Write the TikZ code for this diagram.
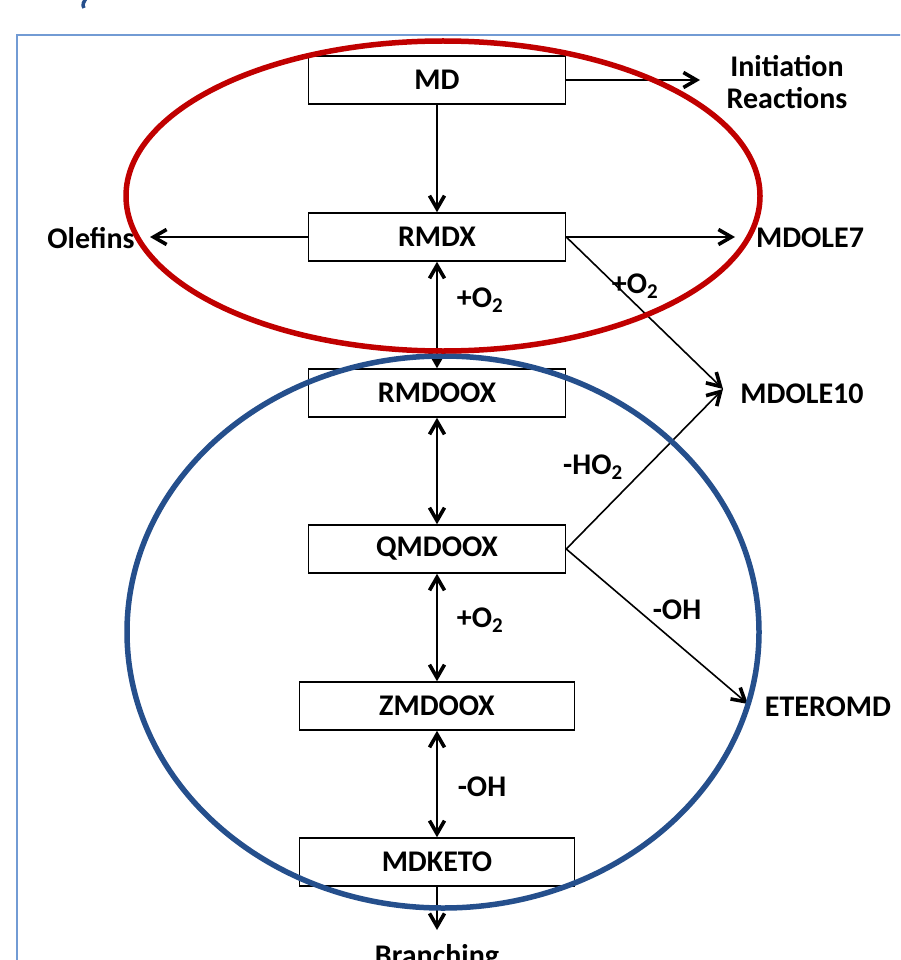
\documentclass[tikz,border=0pt]{standalone}
\usepackage{fontspec}
\setmainfont{Carlito}
\usetikzlibrary{arrows.meta}
\definecolor{ovalred}{RGB}{192,0,0}
\definecolor{ovalblue}{RGB}{37,79,140}
\definecolor{frameblue}{RGB}{114,155,212}
\begin{document}
\begin{tikzpicture}[x=1pt,y=-1pt,
  every node/.style={font=\fontsize{30}{32}\selectfont\bfseries},
  species/.style={draw,line width=1.5pt,minimum width=257pt,minimum height=48pt,inner sep=0pt},
  widebox/.style={species,minimum width=275pt},
  link/.style={line width=1.6pt},
  fwd/.style={link,-{Straight Barb[length=13pt,width=15pt,line width=3.6pt]}},
  both/.style={link,{Straight Barb[length=13pt,width=15pt,line width=3.6pt]}-{Straight Barb[length=13pt,width=15pt,line width=3.6pt]}}]
\clip (0,0) rectangle (900,960);
\coordinate (m1) at (437,80);
\coordinate (m2) at (437,237);
\coordinate (m3) at (437,393);
\coordinate (m4) at (437,549);
\coordinate (m5) at (437,706);
\coordinate (m6) at (437,862);
\coordinate (tipinit) at (700,80);
\coordinate (tipolef) at (150,237);
\coordinate (tipole7) at (735,237);
\coordinate (tipole10) at (723,389);
\coordinate (tipetero) at (748,704);
\coordinate (tipbranch) at (437,930);

  % frame and title remnant
  \draw[frameblue,line width=1.5pt] (17,970) -- (17,35) -- (910,35);
  \draw[ovalblue,line width=3.5pt] (88,-4) .. controls (83,2) and (82,5) .. (84,8);

  % species boxes
  \node (md) at (m1) [species] {MD};
  \node (rmdx) at (m2) [species] {RMDX};
  \node (rmdoox) at (m3) [species] {RMDOOX};
  \node (qmdoox) at (m4) [species] {QMDOOX};
  \node (zmdoox) at (m5) [widebox] {ZMDOOX};
  \node (mdketo) at (m6) [widebox] {MDKETO};

  % products
  \node (init) at (787,82) [align=center] {Initiation\\Reactions};
  \node (olefins) at (91,238) {Olefins};
  \node (mdole7) at (810,238) {MDOLE7};
  \node (mdole10) at (802,394) {MDOLE10};
  \node (eteromd) at (828,707) {ETEROMD};
  \node (branch) at (437,958) {Branching};

  % reactions
  \draw[fwd] (md) -- (tipinit);
  \draw[fwd] (md) -- (rmdx);
  \draw[fwd] (rmdx) -- (tipolef);
  \draw[fwd] (rmdx) -- (tipole7);
  \draw[fwd] (rmdx.east) -- (tipole10);
  \draw[both] (rmdx) -- (rmdoox);
  \draw[both] (rmdoox) -- (qmdoox);
  \draw[fwd] (qmdoox.east) -- (tipole10);
  \draw[fwd] (qmdoox.east) -- (tipetero);
  \draw[both] (qmdoox) -- (zmdoox);
  \draw[both] (zmdoox) -- (mdketo);
  \draw[fwd] (mdketo) -- (tipbranch);

  \node (lo2a) at (480,300) {+O\textsubscript{2}};
  \node (lo2b) at (635,286) {+O\textsubscript{2}};
  \node (lho2) at (593,467) {-HO\textsubscript{2}};
  \node (loha) at (677,610) {-OH};
  \node (lo2c) at (480,620) {+O\textsubscript{2}};
  \node (lohb) at (482,787) {-OH};

  % groups
  \draw[ovalblue,line width=5.5pt] (443,632) ellipse (316 and 276);
  \draw[ovalred,line width=5.5pt] (443,196) ellipse (317 and 155);
\end{tikzpicture}
\end{document}
